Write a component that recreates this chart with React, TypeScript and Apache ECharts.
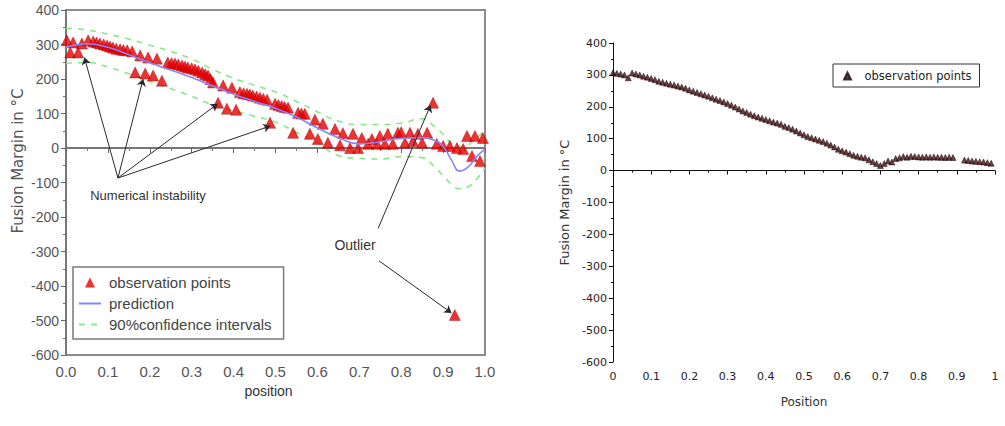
import React, { useEffect, useRef } from "react";
import * as echarts from "echarts";

// ---------- Left chart data ----------
const leftObservations: [number, number][] = [
  [0.002, 312], [0.010, 277], [0.017, 306], [0.029, 277], [0.038, 303], [0.053, 312],
  [0.065, 309], [0.073, 306], [0.081, 303], [0.090, 300], [0.098, 297], [0.105, 294],
  [0.112, 291], [0.120, 288], [0.129, 286], [0.137, 284], [0.146, 283], [0.158, 280],
  [0.165, 219], [0.177, 268], [0.189, 216], [0.196, 262], [0.208, 210], [0.217, 259],
  [0.229, 195], [0.243, 248], [0.252, 246], [0.260, 245], [0.268, 242], [0.277, 239],
  [0.284, 236], [0.291, 233], [0.300, 231], [0.308, 228], [0.316, 224], [0.325, 219],
  [0.332, 214], [0.339, 210], [0.345, 200], [0.351, 190], [0.363, 131], [0.375, 181],
  [0.384, 114], [0.396, 175], [0.406, 111], [0.415, 162], [0.424, 159], [0.432, 157],
  [0.439, 155], [0.446, 152], [0.455, 149], [0.463, 146], [0.471, 143], [0.480, 140],
  [0.487, 73], [0.499, 128], [0.507, 125], [0.515, 122], [0.522, 119], [0.530, 117],
  [0.542, 44], [0.554, 102], [0.562, 100], [0.570, 99], [0.582, 41], [0.594, 82],
  [0.601, 26], [0.613, 70], [0.625, 15], [0.642, 55], [0.654, 8], [0.661, 43],
  [0.678, 0], [0.685, 41], [0.697, 0], [0.706, 29], [0.721, 12], [0.730, 26],
  [0.742, 12], [0.749, 35], [0.761, 12], [0.768, 41], [0.780, 12], [0.792, 44],
  [0.800, 46], [0.809, 15], [0.821, 44], [0.828, 20], [0.840, 41], [0.850, 15],
  [0.862, 44], [0.876, 131], [0.885, 12], [0.900, 6], [0.916, 6], [0.928, -484],
  [0.933, 0], [0.948, -3], [0.957, 35], [0.969, -23], [0.976, 35], [0.988, -38],
  [0.995, 29],
];

const prediction: [number, number][] = [
  [0, 292], [0.05, 302], [0.1, 292], [0.15, 270], [0.2, 247], [0.25, 226], [0.3, 204],
  [0.35, 180], [0.4, 156], [0.45, 135], [0.5, 115], [0.55, 90], [0.6, 58], [0.65, 30],
  [0.7, 12], [0.75, 18], [0.8, 28], [0.85, 30], [0.88, 22], [0.9, 5], [0.92, -35],
  [0.94, -67], [0.96, -55], [0.98, -25], [1.0, -3],
];

const confidenceUpper: [number, number][] = [
  [0, 347], [0.05, 342], [0.1, 330], [0.15, 316], [0.2, 298], [0.25, 280], [0.3, 258],
  [0.35, 228], [0.4, 202], [0.45, 182], [0.5, 162], [0.55, 135], [0.6, 105], [0.65, 78],
  [0.7, 68], [0.75, 68], [0.8, 72], [0.85, 85], [0.88, 62], [0.9, 40], [0.92, 15],
  [0.95, 3], [0.97, 20], [1.0, 50],
];

const confidenceLower: [number, number][] = [
  [0, 245], [0.05, 248], [0.1, 235], [0.15, 215], [0.2, 193], [0.25, 172], [0.3, 150],
  [0.35, 125], [0.4, 108], [0.45, 92], [0.5, 75], [0.55, 45], [0.6, 15], [0.65, -22],
  [0.7, -30], [0.75, -32], [0.8, -25], [0.85, -28], [0.88, -55], [0.9, -80],
  [0.92, -105], [0.94, -118], [0.96, -112], [0.98, -90], [1.0, -58],
];

// annotation arrows (data coordinates): [from, to]
const instabilityArrows: [[number, number], [number, number]][] = [
  [[0.124, -87], [0.044, 262]],
  [[0.124, -87], [0.184, 200]],
  [[0.124, -87], [0.362, 128]],
  [[0.124, -87], [0.488, 64]],
];
const outlierArrows: [[number, number], [number, number]][] = [
  [[0.745, -233], [0.87, 124]],
  [[0.747, -327], [0.92, -478]],
];

// ---------- Right chart data ----------
const rightPositions: number[] = [
  0.00, 0.01, 0.02, 0.03, 0.04, 0.05, 0.06, 0.07, 0.08, 0.09,
  0.10, 0.11, 0.12, 0.13, 0.14, 0.15, 0.16, 0.17, 0.18, 0.19,
  0.20, 0.21, 0.22, 0.23, 0.24, 0.25, 0.26, 0.27, 0.28, 0.29,
  0.30, 0.31, 0.32, 0.33, 0.34, 0.35, 0.36, 0.37, 0.38, 0.39,
  0.40, 0.41, 0.42, 0.43, 0.44, 0.45, 0.46, 0.47, 0.48, 0.49,
  0.50, 0.51, 0.52, 0.53, 0.54, 0.55, 0.56, 0.57, 0.58, 0.59,
  0.60, 0.61, 0.62, 0.63, 0.64, 0.65, 0.66, 0.67, 0.68, 0.69,
  0.70, 0.71, 0.72, 0.73, 0.74, 0.75, 0.76, 0.77, 0.78, 0.79,
  0.80, 0.81, 0.82, 0.83, 0.84, 0.85, 0.86, 0.87, 0.88, 0.89,
  0.92, 0.93, 0.94, 0.95, 0.96, 0.97, 0.98, 0.99,
];
const rightMargins: number[] = [
  307, 305, 303, 300, 291, 306, 303, 300, 296, 293,
  289, 285, 280, 277, 274, 271, 268, 265, 262, 258,
  253, 249, 245, 241, 237, 233, 228, 224, 220, 215,
  210, 205, 199, 193, 187, 182, 177, 172, 168, 164,
  160, 156, 152, 149, 145, 139, 135, 130, 124, 118,
  112, 107, 103, 99, 95, 91, 86, 80, 74, 67,
  62, 58, 53, 48, 45, 42, 40, 34, 28, 22,
  16, 22, 30, 27, 38, 40, 44, 42, 45, 44,
  43, 42, 43, 42, 43, 42, 42, 41, 42, 41,
  33, 32, 30, 29, 28, 27, 25, 23,
];

const SANS = "'Liberation Sans', Arial, sans-serif";
const DEJAVU = "'DejaVu Sans', sans-serif";
const TRI = "path://M5,0 L10,10 L0,10 Z";

function arrowData(list: [[number, number], [number, number]][]) {
  return list.map(([a, b]) => [{ coord: a }, { coord: b }]);
}

function leftOption(): any {
  return {
    animation: false,
    backgroundColor: "#fff",
    grid: {
      left: 66, top: 10, width: 419, height: 345,
      show: true, borderColor: "#8c8c8c", borderWidth: 2, backgroundColor: "transparent",
    },
    xAxis: {
      type: "value", min: 0, max: 1, interval: 0.1,
      axisLine: { lineStyle: { color: "#777", width: 2 } },
      axisTick: { length: 5, lineStyle: { color: "#666" } },
      minorTick: { show: true, splitNumber: 2, length: 3, lineStyle: { color: "#777" } },
      splitLine: { show: false },
      axisLabel: {
        margin: 9, fontFamily: SANS, fontSize: 15, color: "#555",
        formatter: (v: number) => v.toFixed(1),
      },
      name: "position", nameLocation: "middle", nameGap: 29,
      nameTextStyle: { fontFamily: SANS, fontSize: 14, color: "#333", padding: [0, 14, 0, 0] },
    },
    yAxis: {
      type: "value", min: -600, max: 400, interval: 100,
      axisLine: { show: true, lineStyle: { color: "#777", width: 2 } },
      axisTick: { show: true, length: 5, lineStyle: { color: "#666" } },
      minorTick: { show: true, splitNumber: 2, length: 3, lineStyle: { color: "#777" } },
      splitLine: { show: false },
      axisLabel: { margin: 7, fontFamily: SANS, fontSize: 14, color: "#555" },
    },
    legend: {
      orient: "vertical", left: 73, top: 267,
      backgroundColor: "#fff", borderColor: "#7a7a7a", borderWidth: 1.5,
      padding: [8, 12, 7, 5], itemGap: 6, itemWidth: 22, itemHeight: 10,
      textStyle: { fontFamily: SANS, fontSize: 15, color: "#444", padding: [0, 0, 0, 3] },
      data: [
        { name: "observation points", icon: TRI, itemStyle: { color: "#e60000", borderWidth: 0 } },
        { name: "prediction", itemStyle: { opacity: 0 } },
        { name: "90%confidence intervals", itemStyle: { opacity: 0 } },
      ],
    },
    graphic: [
      {
        type: "text", x: 18, y: 161, rotation: Math.PI / 2,
        style: {
          text: "Fusion Margin in °C", font: `15px ${DEJAVU}`, fill: "#555",
          align: "center", verticalAlign: "middle",
        },
      },
      {
        type: "text", x: 148, y: 195,
        style: {
          text: "Numerical instability", font: `13px ${SANS}`, fill: "#333",
          align: "center", verticalAlign: "middle",
        },
      },
      {
        type: "text", x: 355, y: 245,
        style: {
          text: "Outlier", font: `14px ${SANS}`, fill: "#333",
          align: "center", verticalAlign: "middle",
        },
      },
    ],
    series: [
      {
        name: "90%confidence intervals", type: "line", data: confidenceUpper,
        smooth: 0.5, symbol: "none", z: 1,
        lineStyle: { color: "#86e886", width: 1.6, type: [6, 6] },
        itemStyle: { color: "#86e886" },
      },
      {
        name: "90%confidence intervals", type: "line", data: confidenceLower,
        smooth: 0.5, symbol: "none", z: 1,
        lineStyle: { color: "#86e886", width: 1.6, type: [6, 6] },
        itemStyle: { color: "#86e886" },
      },
      {
        name: "prediction", type: "line", data: prediction,
        smooth: 0.5, symbol: "none", z: 3,
        lineStyle: { color: "#8585ff", width: 1.6 },
        itemStyle: { color: "#8585ff" },
      },
      {
        name: "observation points", type: "scatter", data: leftObservations,
        symbol: "triangle", symbolSize: [11, 11], z: 2,
        itemStyle: { color: "#e60000", borderColor: "#a00000", borderWidth: 0.5 },
        markLine: {
          silent: true, symbol: ["none", "arrow"], symbolSize: 7,
          label: { show: false },
          lineStyle: { color: "#2a2a2a", width: 1, type: "solid" },
          data: [...arrowData(instabilityArrows), ...arrowData(outlierArrows)],
        },
      },
    ],
  };
}

function rightOption(): any {
  return {
    animation: false,
    backgroundColor: "#fff",
    grid: { left: 108, top: 43, width: 382, height: 319 },
    xAxis: {
      type: "value", min: 0, max: 1, interval: 0.1,
      axisLine: { lineStyle: { color: "#111", width: 1 } },
      axisTick: { length: 4, lineStyle: { color: "#111" } },
      minorTick: { show: true, splitNumber: 2, length: 2, lineStyle: { color: "#111" } },
      splitLine: { show: false },
      axisLabel: { margin: 9, fontFamily: DEJAVU, fontSize: 11, color: "#222" },
      name: "Position", nameLocation: "middle", nameGap: 34,
      nameTextStyle: { fontFamily: DEJAVU, fontSize: 12, color: "#333" },
    },
    yAxis: {
      type: "value", min: -600, max: 400, interval: 100,
      axisLine: { show: true, lineStyle: { color: "#111", width: 1 } },
      axisTick: { show: true, length: 4, lineStyle: { color: "#111" } },
      minorTick: { show: true, splitNumber: 2, length: 2, lineStyle: { color: "#111" } },
      splitLine: { show: false },
      axisLabel: { margin: 6, fontFamily: DEJAVU, fontSize: 11, color: "#222" },
      name: "Fusion Margin in °C", nameLocation: "middle", nameGap: 38,
      nameTextStyle: { fontFamily: DEJAVU, fontSize: 13, color: "#333" },
    },
    legend: {
      left: 328, top: 64,
      borderColor: "#333", borderWidth: 1, padding: [6, 8, 5, 10],
      itemWidth: 8, itemHeight: 7, itemGap: 5,
      textStyle: { fontFamily: DEJAVU, fontSize: 11.5, color: "#222", padding: [0, 0, 0, 8] },
      data: [{ name: "observation points", icon: TRI }],
    },
    series: [
      {
        name: "observation points", type: "scatter",
        data: rightPositions.map((p, i) => [p, rightMargins[i]]),
        symbol: "triangle", symbolSize: [6, 6],
        itemStyle: { color: "#4a0d10", borderColor: "#111", borderWidth: 0.6 },
      },
    ],
  };
}

export default function App() {
  const leftRef = useRef<HTMLDivElement>(null);
  const rightRef = useRef<HTMLDivElement>(null);

  useEffect(() => {
    const l = echarts.init(leftRef.current!, undefined, { renderer: "svg" });
    const r = echarts.init(rightRef.current!, undefined, { renderer: "svg" });
    l.setOption(leftOption());
    r.setOption(rightOption());
    return () => {
      l.dispose();
      r.dispose();
    };
  }, []);

  return (
    <div style={{ position: "fixed", left: 0, top: 0, width: 1005, height: 426, background: "#fff" }}>
      <div ref={leftRef} style={{ position: "absolute", left: 0, top: 0, width: 505, height: 426 }} />
      <div ref={rightRef} style={{ position: "absolute", left: 505, top: 0, width: 500, height: 426 }} />
    </div>
  );
}
